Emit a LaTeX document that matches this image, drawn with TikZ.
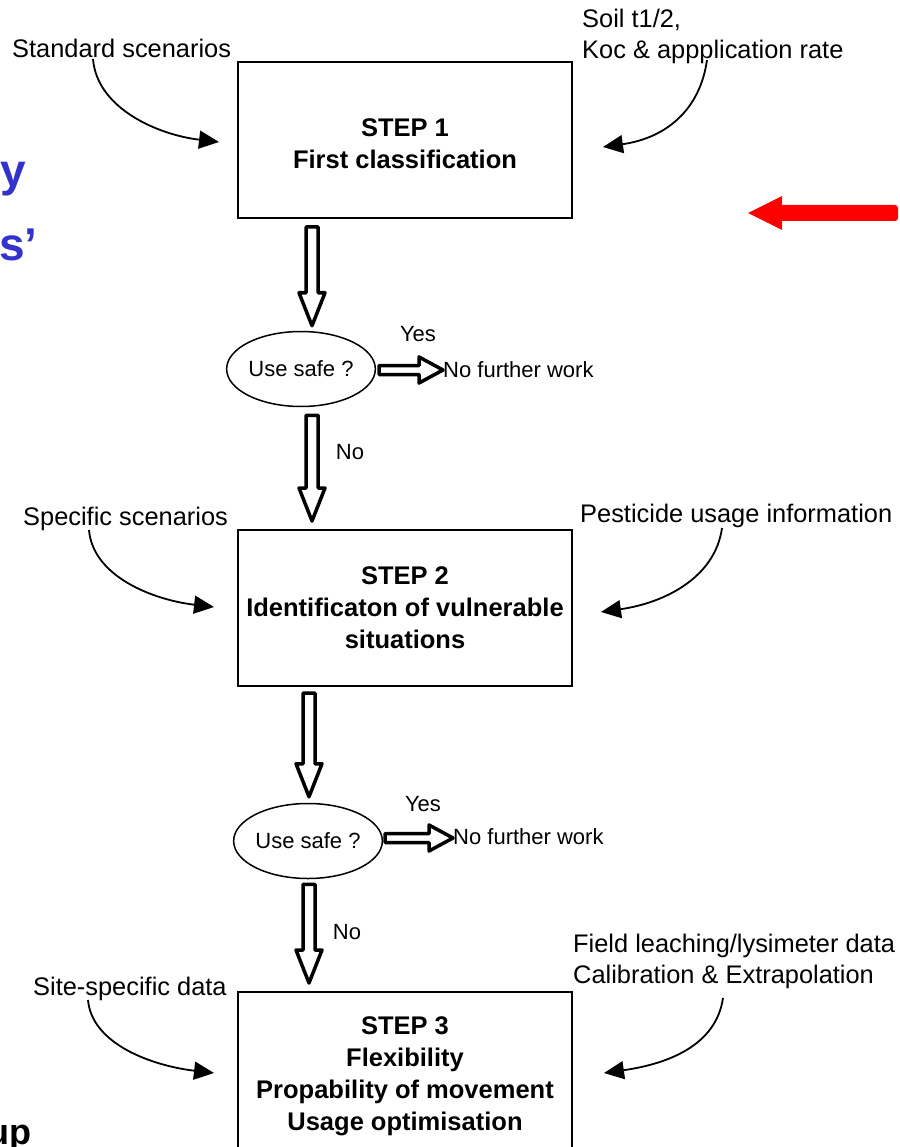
\documentclass[tikz,border=0pt]{standalone}
\usepackage{fontspec}
\setmainfont{Liberation Sans}
\usetikzlibrary{shapes.geometric,arrows.meta,calc}
\definecolor{titleblue}{RGB}{51,51,204}
\definecolor{arrowred}{RGB}{255,0,0}
\newcommand\downblock[2]{\draw[hollow] let \p1=(#1), \p2=(#2) in
  (\x1-6pt,\y1) -- (\x1+6pt,\y1) -- (\x1+6pt,\y2+33pt) -- (\x1+13pt,\y2+33pt)
  -- (\x1,\y2) -- (\x1-13pt,\y2+33pt) -- (\x1-6pt,\y2+33pt) -- cycle;}
\newcommand\rightblock[2]{\draw[hollow] let \p1=(#1), \p2=(#2) in
  (\x1,\y1+4.5pt) -- (\x2-24pt,\y1+4.5pt) -- (\x2-24pt,\y1+13pt) -- (\x2,\y1)
  -- (\x2-24pt,\y1-13pt) -- (\x2-24pt,\y1-4.5pt) -- (\x1,\y1-4.5pt) -- cycle;}
\tikzset{
  lbl/.style={font=\fontsize{25.4pt}{31pt}\selectfont, inner sep=0pt},
  small/.style={font=\fontsize{22pt}{26pt}\selectfont, inner sep=0pt},
  stepbox/.style={draw, line width=2pt, minimum width=334pt, minimum height=156pt,
    align=center, font=\fontsize{25.5pt}{32pt}\selectfont\bfseries, inner sep=0pt},
  decision/.style={draw, ellipse, line width=1.5pt, minimum width=137pt,
    minimum height=75pt, inner sep=0pt},
  feed/.style={line width=1.8pt, -{Triangle[length=20pt,width=18pt]}},
  hollow/.style={draw, line width=3.5pt, line join=round, fill=white},
  title/.style={anchor=base west, inner sep=0pt, font=\fontsize{46pt}{50pt}\selectfont\bfseries},
}
\begin{document}
\begin{tikzpicture}[x=1pt,y=-1pt]
\useasboundingbox (0,0) rectangle (899,1147);

% title fragments
\node[title, text=titleblue] (ty) at (0,187) {y};
\node[title, text=titleblue] (ts) at (-1,261) {s’};
\node[title, text=black, font=\fontsize{36pt}{40pt}\selectfont\bfseries] (tu) at (-13,1144) {up};

% boxes
\node[stepbox] (s1) at (405,140) {\rule{0pt}{25pt}STEP 1\\First classification};
\node[stepbox] (s2) at (405,608) {STEP 2\\Identificaton of vulnerable\\situations};
\node[stepbox, minimum height=168pt] (s3) at (405,1076) {STEP 3\\Flexibility\\Propability of movement\\Usage optimisation};

% decisions
\node[decision, small] (d1) at (301,369) {Use safe ?};
\node[decision, small] (d2) at (308,841) {Use safe ?};

% results
\node[small, anchor=base] (y1) at (418,341) {Yes};
\node[small, anchor=base west] (n1) at (443,377) {No further work};
\node[small, anchor=base] (y2) at (423,811) {Yes};
\node[small, anchor=base west] (n2) at (453,844) {No further work};
\node[small, anchor=base] (no1) at (350,459) {No};
\node[small, anchor=base] (no2) at (347,939) {No};

% vertical block arrows
\coordinate (c1) at (312,0);
\coordinate (c2) at (309,0);
\coordinate (a1s) at ($(s1.south -| c1)+(0,8)$);
\coordinate (a1e) at ($(d1.north -| c1)+(0,-5)$);
\coordinate (a2s) at ($(d1.south -| c1)+(0,8)$);
\coordinate (a2e) at ($(s2.north -| c1)+(0,-8)$);
\coordinate (a3s) at ($(s2.south -| c2)+(0,6)$);
\coordinate (a3e) at ($(d2.north -| c2)+(0,-6)$);
\coordinate (a4s) at ($(d2.south -| c2)+(0,5)$);
\coordinate (a4e) at ($(s3.north -| c2)+(0,-8)$);
\downblock{a1s}{a1e}
\downblock{a2s}{a2e}
\downblock{a3s}{a3e}
\downblock{a4s}{a4e}

% yes arrows
\coordinate (b1s) at ($(d1.east)+(3,1)$);
\rightblock{b1s}{n1.west}
\coordinate (b2s) at ($(d2.east)+(2,-3)$);
\rightblock{b2s}{n2.west}

% inputs
\node[lbl, anchor=base west] (std) at (12,58) {Standard scenarios};
\node[lbl, anchor=north west, align=left] (soil) at (582,8.5) {Soil t1/2,\\Koc \& appplication rate};
\node[lbl, anchor=base west] (spec) at (23,525) {Specific scenarios};
\node[lbl, anchor=base west] (pest) at (580,522) {Pesticide usage information};
\node[lbl, anchor=base west] (site) at (33,995) {Site-specific data};
\node[lbl, anchor=north west, align=left] (field) at (573,933.5) {Field leaching/lysimeter data\\Calibration \& Extrapolation};

\coordinate (f1s) at (93,59);   \coordinate (f1e) at ($(s1.west)+(-18,2)$);
\coordinate (f2s) at (707,60);  \coordinate (f2e) at ($(s1.east)+(30,7)$);
\coordinate (f3s) at (89,530);  \coordinate (f3e) at ($(s2.west)+(-23,-1)$);
\coordinate (f4s) at (722,528); \coordinate (f4e) at ($(s2.east)+(28,4)$);
\coordinate (f5s) at (88,1000); \coordinate (f5e) at ($(s3.west)+(-23,-3)$);
\coordinate (f6s) at (723,998); \coordinate (f6e) at ($(s3.east)+(31,-3)$);
\draw[feed] (f1s) .. controls +(4,50) and +(-60,-7) .. (f1e);
\draw[feed] (f3s) .. controls +(4,47) and +(-60,-7) .. (f3e);
\draw[feed] (f5s) .. controls +(4,45) and +(-60,-7) .. (f5e);
\draw[feed] (f2s) .. controls +(-7,50) and +(63,-9) .. (f2e);
\draw[feed] (f4s) .. controls +(-7,50) and +(63,-9) .. (f4e);
\draw[feed] (f6s) .. controls +(-7,48) and +(63,-9) .. (f6e);

% red arrow
\fill[arrowred] (748,213) -- (782,196) -- (782,230) -- cycle;
\fill[arrowred, rounded corners=3pt] (780,205) rectangle (898,221);
\end{tikzpicture}
\end{document}
